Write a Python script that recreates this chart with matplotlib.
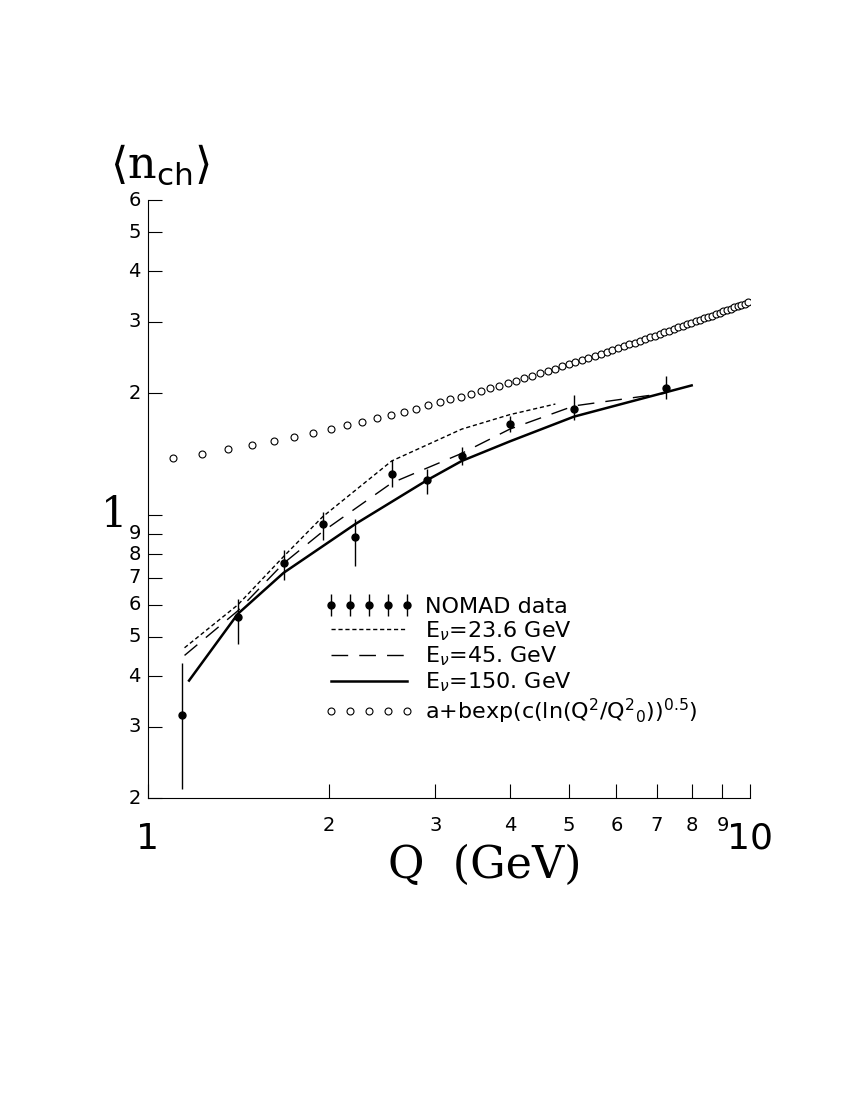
import numpy as np
import matplotlib
matplotlib.use("Agg")
import matplotlib.pyplot as plt

# NOMAD data
q_data = [1.14, 1.41, 1.68, 1.95, 2.21, 2.54, 2.91, 3.32, 3.99, 5.10, 7.24]
n_data = [0.32, 0.56, 0.76, 0.95, 0.885, 1.26, 1.22, 1.40, 1.68, 1.83, 2.06]
n_lo   = [0.21, 0.48, 0.69, 0.87, 0.75, 1.17, 1.13, 1.33, 1.60, 1.72, 1.93]
n_hi   = [0.43, 0.62, 0.82, 1.02, 0.98, 1.37, 1.30, 1.47, 1.76, 1.98, 2.20]
# MC curves
q_236 = [1.15, 1.41, 1.68, 1.95, 2.54, 3.32, 3.99, 4.75]
n_236 = [0.47, 0.60, 0.79, 0.99, 1.36, 1.63, 1.77, 1.88]
q_45 = [1.15, 1.41, 1.68, 1.95, 2.54, 3.32, 3.99, 5.10, 7.24]
n_45 = [0.45, 0.58, 0.76, 0.91, 1.20, 1.42, 1.63, 1.86, 2.00]
q_150 = [1.17, 1.41, 1.68, 2.21, 2.91, 3.32, 3.99, 5.10, 8.0]
n_150 = [0.39, 0.57, 0.72, 0.95, 1.22, 1.36, 1.52, 1.75, 2.09]
# fit a + b exp(c (ln(Q^2/Q0^2))^0.5)
fit_a, fit_b, fit_c, fit_q0 = 1.30, 0.035, 1.9, 1.0
q_fit = np.arange(1.1, 10.01, 0.13)
n_fit = fit_a + fit_b * np.exp(fit_c * np.sqrt(np.log(q_fit**2 / fit_q0**2)))

fig = plt.figure(figsize=(8.5, 11), dpi=100)
ax = fig.add_axes([148/850, 1-798/1100, (750-148)/850, (798-200)/1100])
ax.set_xscale('log'); ax.set_yscale('log')
ax.set_xlim(1, 10); ax.set_ylim(0.2, 6)
for s in ['top', 'right']:
    ax.spines[s].set_visible(False)

yerr = [np.array(n_data)-np.array(n_lo), np.array(n_hi)-np.array(n_data)]
h_data = ax.errorbar(q_data, n_data, yerr=yerr, fmt='o', color='black', ms=5, elinewidth=1, capsize=0, label='NOMAD data')
h1, = ax.plot(q_236, n_236, color='black', lw=1, ls=(0, (3, 2)), label=r'E$_{\nu}$=23.6 GeV')
h2, = ax.plot(q_45, n_45, color='black', lw=1, ls=(0, (12, 8)), label=r'E$_{\nu}$=45. GeV')
h3, = ax.plot(q_150, n_150, color='black', lw=1.8, label=r'E$_{\nu}$=150. GeV')
h4, = ax.plot(q_fit, n_fit, 'o', mfc='white', mec='black', ms=5, mew=0.8, label=r'a+bexp(c(ln(Q$^2$/Q$^2$$_0$))$^{0.5}$)')

ax.tick_params(which='both', direction='in', labelleft=False, labelbottom=False)
ax.tick_params(which='major', length=10)
ax.set_yticks([0.2,0.3,0.4,0.5,0.6,0.7,0.8,0.9,1,2,3,4,5,6])
ax.set_yticks([], minor=True)
ax.set_xticks([1,2,3,4,5,6,7,8,9,10])
ax.set_xticks([], minor=True)
for v in [0.2,0.3,0.4,0.5,0.6,0.7,0.8,0.9,2,3,4,5,6]:
    lab = str(int(round(v*10))) if v < 1 else str(int(v))
    ax.text(-0.012, v, lab, transform=ax.get_yaxis_transform(), ha='right', va='center', fontsize=14)
ax.text(-0.035, 1, '1', transform=ax.get_yaxis_transform(), ha='right', va='center', fontsize=30, family='DejaVu Serif')
for v in range(2, 10):
    ax.text(v, -0.03, str(v), transform=ax.get_xaxis_transform(), ha='center', va='top', fontsize=14)
ax.text(1, -0.04, '1', transform=ax.get_xaxis_transform(), ha='center', va='top', fontsize=26)
ax.text(10, -0.04, '10', transform=ax.get_xaxis_transform(), ha='center', va='top', fontsize=26)
fig.text(485/850, 1-865/1100, 'Q  (GeV)', ha='center', va='center', fontsize=32, family='DejaVu Serif')
fig.text(160/850, 1-165/1100, r'$\langle$n$_{\rm ch}\rangle$', ha='center', va='center', fontsize=32, family='DejaVu Serif')

ax.legend([h_data, h1, h2, h3, h4], [h.get_label() for h in [h_data, h1, h2, h3, h4]],
          loc='upper left', bbox_to_anchor=(0.26, 0.37), frameon=False, fontsize=16,
          numpoints=5, handlelength=4, labelspacing=0.1, handletextpad=0.5)
fig.savefig('out.png', dpi=100)
